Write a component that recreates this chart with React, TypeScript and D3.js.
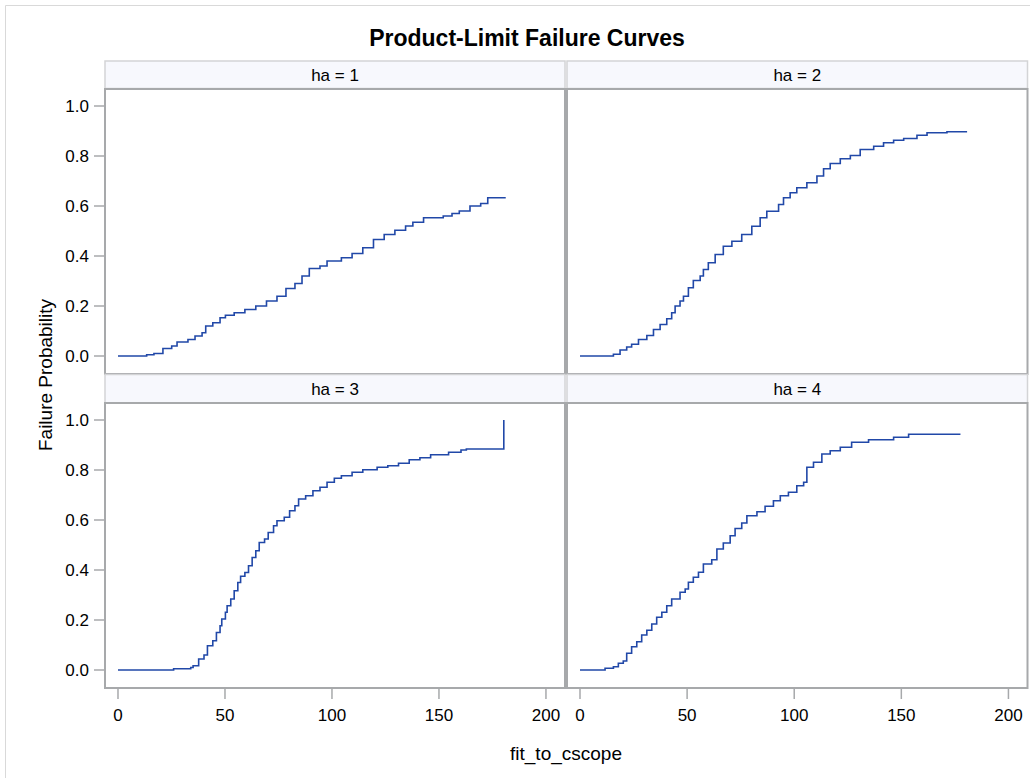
import React from "react";
import * as d3 from "d3";

const TITLE = "Product-Limit Failure Curves";
const X_LABEL = "fit_to_cscope";
const Y_LABEL = "Failure Probability";
const PANEL_LABELS = ["ha = 1", "ha = 2", "ha = 3", "ha = 4"];
const X_TICKS = [0, 50, 100, 150, 200];
const Y_TICKS = [0, 0.2, 0.4, 0.6, 0.8, 1.0];

const ha1Time = [0, 13.4, 16.8, 21.0, 25.1, 27.6, 32.7, 36.0, 39.3, 41.0, 44.3, 47.7, 50.2, 54.3, 59.3, 64.4, 69.4, 74.3, 78.5, 82.7, 86.0, 89.4, 94.4, 97.7, 104.4, 109.4, 114.4, 119.4, 124.4, 129.4, 134.4, 137.8, 142.8, 152.0, 156.1, 159.5, 164.5, 169.5, 172.8, 181.2];
const ha1Prob = [0, 0.005, 0.01, 0.03, 0.04, 0.056, 0.066, 0.08, 0.093, 0.12, 0.133, 0.153, 0.163, 0.173, 0.186, 0.2, 0.22, 0.239, 0.27, 0.29, 0.32, 0.35, 0.36, 0.38, 0.393, 0.41, 0.433, 0.466, 0.486, 0.503, 0.52, 0.535, 0.553, 0.56, 0.57, 0.58, 0.6, 0.61, 0.633, 0.633];

const ha2Time = [0, 15.6, 18.7, 21.8, 24.1, 27.3, 31.2, 34.3, 37.4, 40.5, 42.8, 44.4, 46.7, 48.3, 50.6, 52.9, 56.1, 57.6, 59.9, 63.1, 66.9, 70.9, 75.5, 80.2, 84.1, 87.2, 92.7, 95.0, 98.1, 101.2, 105.9, 110.6, 113.7, 116.8, 121.5, 126.2, 130.8, 137.1, 141.7, 146.4, 151.1, 157.3, 162.0, 171.3, 180.7];
const ha2Prob = [0, 0.007, 0.024, 0.036, 0.047, 0.066, 0.082, 0.106, 0.126, 0.149, 0.173, 0.2, 0.22, 0.239, 0.273, 0.302, 0.32, 0.346, 0.373, 0.406, 0.439, 0.459, 0.486, 0.519, 0.553, 0.579, 0.606, 0.633, 0.653, 0.673, 0.693, 0.72, 0.749, 0.77, 0.789, 0.802, 0.826, 0.839, 0.853, 0.863, 0.87, 0.883, 0.893, 0.897, 0.897];

const ha3Time = [0, 26.0, 34.0, 35.1, 37.7, 40.2, 41.8, 44.3, 46.0, 47.7, 48.5, 50.2, 51.0, 52.7, 54.3, 56.0, 57.3, 59.3, 61.0, 62.7, 64.4, 66.0, 68.5, 70.2, 72.7, 74.3, 77.7, 80.2, 82.7, 84.4, 87.7, 91.1, 94.4, 97.7, 101.1, 104.4, 109.4, 114.4, 121.1, 126.1, 131.1, 136.1, 141.1, 146.1, 154.5, 160.3, 162.8, 180.3];
const ha3Prob = [0, 0.005, 0.01, 0.017, 0.044, 0.06, 0.097, 0.117, 0.15, 0.177, 0.204, 0.231, 0.257, 0.284, 0.317, 0.35, 0.375, 0.39, 0.417, 0.45, 0.477, 0.51, 0.524, 0.55, 0.577, 0.597, 0.611, 0.637, 0.657, 0.684, 0.697, 0.717, 0.731, 0.751, 0.767, 0.777, 0.791, 0.801, 0.811, 0.817, 0.827, 0.841, 0.849, 0.861, 0.871, 0.88, 0.884, 1.0];

const ha4Time = [0, 11.7, 15.6, 17.9, 20.2, 21.8, 24.1, 26.5, 28.8, 31.2, 33.5, 35.8, 38.2, 40.5, 42.8, 46.7, 49.1, 50.6, 52.9, 55.3, 57.6, 61.5, 63.9, 66.9, 70.1, 72.4, 75.5, 77.9, 82.6, 86.4, 90.3, 93.5, 97.3, 101.2, 104.4, 105.9, 109.0, 112.9, 116.8, 121.5, 126.8, 134.7, 146.4, 153.4, 177.6];
const ha4Prob = [0, 0.007, 0.013, 0.027, 0.036, 0.067, 0.093, 0.113, 0.14, 0.159, 0.184, 0.211, 0.231, 0.257, 0.284, 0.311, 0.324, 0.351, 0.371, 0.391, 0.424, 0.441, 0.484, 0.508, 0.537, 0.566, 0.588, 0.617, 0.633, 0.655, 0.677, 0.697, 0.711, 0.737, 0.751, 0.811, 0.831, 0.864, 0.877, 0.891, 0.911, 0.921, 0.931, 0.943, 0.943];

const SERIES = [
  { time: ha1Time, prob: ha1Prob },
  { time: ha2Time, prob: ha2Prob },
  { time: ha3Time, prob: ha3Prob },
  { time: ha4Time, prob: ha4Prob },
];

const W = 1030;
const H = 778;
const FONT = "'Liberation Sans', Arial, sans-serif";
const COLS = [
  [105, 565],
  [567, 1027.5],
];
const HEADERS_Y = [
  [61, 88.5],
  [374.5, 403],
];
const ROWS = [
  [89, 374],
  [403, 688],
];
const X_DOMAIN = [-6.07, 208.9];
const Y_DOMAIN = [-0.072, 1.068];
const LINE_COLOR = "#2148a8";
const FRAME = "#a7a9ab";

export default function App() {
  const panels = SERIES.map((s, i) => {
    const c = i % 2;
    const r = Math.floor(i / 2);
    const x = d3.scaleLinear().domain(X_DOMAIN).range(COLS[c]);
    const y = d3.scaleLinear().domain(Y_DOMAIN).range([ROWS[r][1], ROWS[r][0]]);
    const pts = s.time.map((t, k) => [t, s.prob[k]] as [number, number]);
    const line = d3
      .line<[number, number]>()
      .x((d) => x(d[0]))
      .y((d) => y(d[1]))
      .curve(d3.curveStepAfter);
    return { c, r, x, y, path: line(pts) || "", label: PANEL_LABELS[i] };
  });

  return (
    <svg
      width={W}
      height={H}
      style={{ position: "absolute", left: 0, top: 0, background: "#fff" }}
      fontFamily={FONT}
    >
      <line x1={5.5} y1={5.5} x2={W} y2={5.5} stroke="#d9d9d9" />
      <line x1={5.5} y1={5.5} x2={5.5} y2={H} stroke="#d9d9d9" />
      <text x={527} y={46} textAnchor="middle" fontSize={23} fontWeight="bold" fill="#000">
        {TITLE}
      </text>

      {panels.map((p, i) => (
        <g key={i}>
          <rect
            x={COLS[p.c][0]}
            y={HEADERS_Y[p.r][0]}
            width={COLS[p.c][1] - COLS[p.c][0]}
            height={HEADERS_Y[p.r][1] - HEADERS_Y[p.r][0]}
            fill="#f7f8fd"
            stroke="#d3d4d6"
            strokeWidth={1.5}
          />
          <text
            x={(COLS[p.c][0] + COLS[p.c][1]) / 2}
            y={(HEADERS_Y[p.r][0] + HEADERS_Y[p.r][1]) / 2 + 6}
            textAnchor="middle"
            fontSize={17}
            fill="#000"
          >
            {p.label}
          </text>
          <rect
            x={COLS[p.c][0]}
            y={ROWS[p.r][0]}
            width={COLS[p.c][1] - COLS[p.c][0]}
            height={ROWS[p.r][1] - ROWS[p.r][0]}
            fill="#fff"
            stroke={FRAME}
            strokeWidth={2}
          />
          <path d={p.path} fill="none" stroke={LINE_COLOR} strokeWidth={1.6} />
          {p.c === 0 &&
            Y_TICKS.map((v) => (
              <g key={v}>
                <line x1={94} x2={105} y1={p.y(v)} y2={p.y(v)} stroke={FRAME} strokeWidth={1.5} />
                <text x={89} y={p.y(v) + 6} textAnchor="end" fontSize={17} fill="#000">
                  {v.toFixed(1)}
                </text>
              </g>
            ))}
          {p.r === 1 &&
            X_TICKS.map((v) => (
              <g key={v}>
                <line x1={p.x(v)} x2={p.x(v)} y1={688} y2={699} stroke={FRAME} strokeWidth={1.5} />
                <text x={p.x(v)} y={721} textAnchor="middle" fontSize={17} fill="#000">
                  {v}
                </text>
              </g>
            ))}
        </g>
      ))}

      <text x={566} y={760} textAnchor="middle" fontSize={19} fill="#000">
        {X_LABEL}
      </text>
      <text
        transform={`translate(52, 375) rotate(-90)`}
        textAnchor="middle"
        fontSize={19}
        fill="#000"
      >
        {Y_LABEL}
      </text>
    </svg>
  );
}
